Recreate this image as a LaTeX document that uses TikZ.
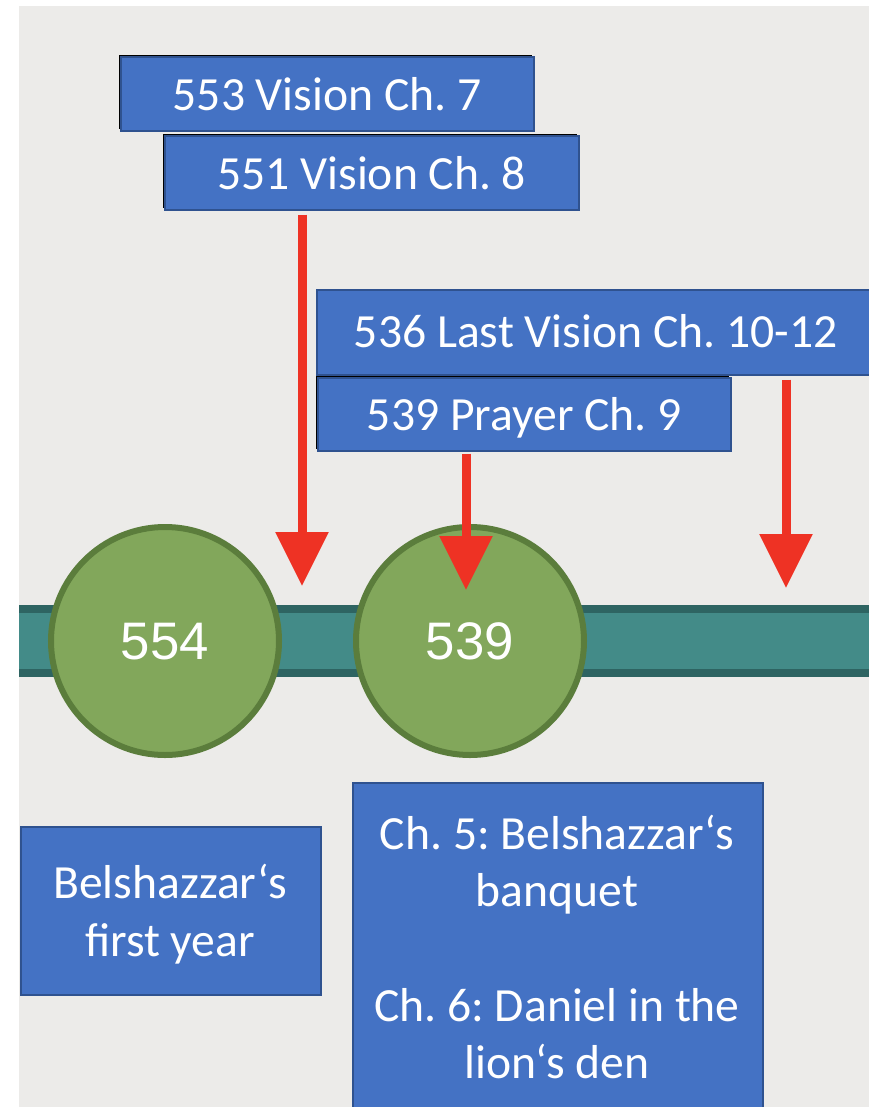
\documentclass[tikz,border=0pt]{standalone}
\usepackage{fontspec}
\setmainfont{Carlito}
\newfontfamily\numfont{Liberation Sans}
\usetikzlibrary{arrows.meta,shadows}
\definecolor{bgray}{RGB}{236,235,233}
\definecolor{boxblue}{RGB}{68,114,196}
\definecolor{boxedge}{RGB}{47,82,143}
\definecolor{tealfill}{RGB}{67,139,136}
\definecolor{tealedge}{RGB}{46,100,98}
\definecolor{gfill}{RGB}{130,167,91}
\definecolor{gedge}{RGB}{91,125,60}
\definecolor{arrowred}{RGB}{238,50,36}
\frenchspacing
\begin{document}
\frenchspacing
\begin{tikzpicture}[x=1bp,y=-1bp,
  bluebox/.style={rectangle, fill=boxblue, draw=boxedge, line width=1.5bp, inner sep=0pt,
    text=white, font=\fontsize{47.8}{57.7}\selectfont\frenchspacing, text height=33bp, text depth=0pt,
    anchor=north west},
  shadowed/.style={general shadow={shadow xshift=-1.5bp, shadow yshift=1.5bp, fill=black}},
  circ/.style={circle, fill=gfill, draw=gedge, line width=6bp, minimum size=228bp, inner sep=0pt,
    text=white, font=\numfont\fontsize{53}{60}\selectfont, text height=36bp, text depth=0pt},
  redarrow/.style={draw=arrowred, line width=9bp, -{Triangle[width=51bp,length=54bp]}, arrowred},
  textline/.style={text=white, font=\fontsize{47.8}{57.7}\selectfont\frenchspacing, anchor=base, inner sep=0pt}
]
\useasboundingbox (0,0) rectangle (869,1107);
\clip (0,0) rectangle (869,1107);
\fill[white] (0,0) rectangle (869,1107);
\fill[bgray] (19,6) rectangle (869,1107);

% timeline band
\fill[tealedge] (19,605) rectangle (880,677);
\fill[tealfill] (19,613) rectangle (880,669);

% circles
\node[circ] (c554) at (165,641) {554};
\node[circ] (c539) at (470,641) {539};

% top boxes
\node[bluebox, shadowed, minimum width=413bp, minimum height=74bp] (b553) at (120,56) {553 Vision Ch. 7};
\node[bluebox, shadowed, minimum width=414bp, minimum height=74bp] (b551) at (164,135) {551 Vision Ch. 8};
\node[bluebox, minimum width=558bp, minimum height=85bp, text height=30bp] (b536) at (316,289) {536 Last Vision Ch. 10-12};
\node[bluebox, shadowed, minimum width=413bp, minimum height=73bp] (b539) at (317,377) {539 Prayer Ch. 9};

% bottom boxes
\node[bluebox, minimum width=300bp, minimum height=168bp] (bfirst) at (20,826) {};
\node[textline] (bf1) at (170,898) {Belshazzar‘s};
\node[textline] (bf2) at (170,956) {first year};

\node[bluebox, minimum width=410bp, minimum height=340bp] (bch) at (352,782) {};
\node[textline] (ch1) at (557,849) {Ch. 5: Belshazzar‘s};
\node[textline] (ch2) at (557,906.5) {banquet};
\node[textline] (ch3) at (557,1021) {Ch. 6: Daniel in the};
\node[textline] (ch4) at (557,1078.5) {lion‘s den};

% arrows
\coordinate (t1) at (302,586);
\coordinate (t2) at (466,590);
\coordinate (t3) at (786,588);
\draw[redarrow] ([yshift=-4bp]b551.south -| t1) -- (t1);
\draw[redarrow] ([yshift=-2bp]b539.south -| t2) -- (t2);
\draw[redarrow] ([yshift=-4bp]b536.south -| t3) -- (t3);
\end{tikzpicture}
\end{document}
